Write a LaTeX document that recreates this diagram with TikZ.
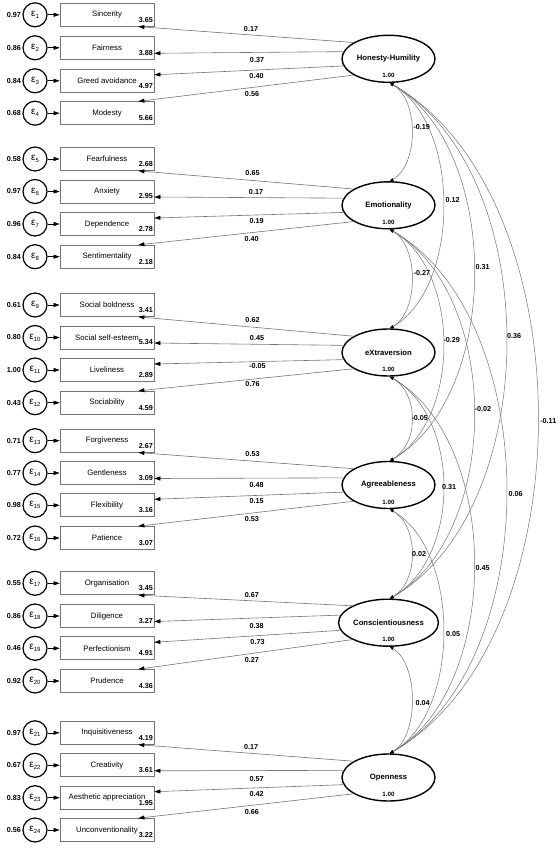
\documentclass[tikz,border=0pt]{standalone}
\usepackage{fontspec}
\setmainfont{Liberation Sans}
\usetikzlibrary{arrows.meta,calc,shapes.geometric}
\newcommand\epsv[1]{{\fontsize{10}{10}\selectfont ε}\raisebox{-2pt}{\fontsize{6}{6}\selectfont #1}}
\begin{document}
\begin{tikzpicture}[x=1pt,y=-1pt,
  obs/.style={rectangle,draw=black!55,line width=0.7pt,minimum width=94pt,minimum height=23pt,inner sep=0pt,font=\fontsize{7.8}{8}\selectfont},
  errc/.style={circle,draw=black,line width=1.2pt,minimum size=24pt,inner sep=0pt},
  lat/.style={ellipse,draw=black,line width=1.4pt,minimum width=93pt,minimum height=47pt,inner sep=0pt,font=\bfseries\fontsize{7.7}{8}\selectfont},
  num/.style={inner sep=0pt,font=\bfseries\fontsize{7.2}{7.2}\selectfont},
  numsmall/.style={inner sep=0pt,font=\bfseries\fontsize{6.2}{6.2}\selectfont},
  earr/.style={draw=black,line width=0.6pt,-{Triangle[length=6pt,width=4pt]}},
  ld/.style={draw=black!55,line width=0.6pt,-{Triangle[length=6pt,width=4pt,black]}},
  cv/.style={draw=black!55,line width=0.5pt,{Triangle[length=3.5pt,width=3pt,black]}-{Triangle[length=3.5pt,width=3pt,black]}}
]
\useasboundingbox (0,0) rectangle (558,850);

% indicators, errors, intercepts, error variances
\foreach \i/\y/\nm/\ic/\vr in {
 1/14.8/Sincerity/3.65/0.97, 2/47.8/Fairness/3.88/0.86, 3/80.8/Greed avoidance/4.97/0.84, 4/113.2/Modesty/5.66/0.68,
 5/159/Fearfulness/2.68/0.58, 6/191.5/Anxiety/2.95/0.97, 7/224/Dependence/2.78/0.96, 8/256.7/Sentimentality/2.18/0.84,
 9/305/Social boldness/3.41/0.61, 10/337.5/Social self-esteem/5.34/0.80, 11/370/Liveliness/2.89/1.00, 12/402.7/Sociability/4.59/0.43,
 13/440.7/Forgiveness/2.67/0.71, 14/473/Gentleness/3.09/0.77, 15/505.3/Flexibility/3.16/0.98, 16/538/Patience/3.07/0.72,
 17/583.3/Organisation/3.45/0.55, 18/616/Diligence/3.27/0.86, 19/648.3/Perfectionism/4.91/0.46, 20/681/Prudence/4.36/0.92,
 21/732.8/Inquisitiveness/4.19/0.97, 22/765.3/Creativity/3.61/0.67, 23/797.7/Aesthetic appreciation/1.95/0.83, 24/830/Unconventionality/3.22/0.56}
{
  \node[obs] (b\i) at (107,\y) {\nm};
  \node[errc] (e\i) at (35,\y) {\epsv{\i}};
  \node[num,anchor=east] (ic\i) at (153,\y+5) {\ic};
  \node[num,anchor=east] (v\i) at (21,\y) {\vr};
  \draw[earr] (e\i) -- (b\i);
}

% latent variables
\foreach \n/\y/\t in {HH/58.8/Honesty-Humility, E/205.3/Emotionality, X/352.5/eXtraversion,
  A/485/Agreeableness, C/622.7/Conscientiousness, O/777.5/Openness}
{
  \node[lat] (\n) at (388.5,\y) {\t};
  \node[numsmall] (v\n) at (388.5,\y+17) {1.00};
}

% loadings
\foreach \n/\a/\b/\c/\d in {HH/1/2/3/4, E/5/6/7/8, X/9/10/11/12, A/13/14/15/16, C/17/18/19/20, O/21/22/23/24}
{
  \draw[ld] (\n.155) -- ($(b\a.south east)+(-16,0)$);
  \draw[ld] (\n.171) -- ($(b\b.east)+(0,5.5)$);
  \draw[ld] (\n.189) -- ($(b\c.east)+(0,-6)$);
  \draw[ld] (\n.205) -- ($(b\d.north east)+(-16,0)$);
}

% loading labels
\foreach \k/\x/\y/\t in {
 1/251/29/0.17, 2/257/60/0.37, 3/256.5/76/0.40, 4/252/94.3/0.56,
 5/252.5/173.3/0.65, 6/256/191.7/0.17, 7/256.7/220.7/0.19, 8/251.7/239/0.40,
 9/252.5/320/0.62, 10/257/337.7/0.45, 11/257.5/366/-0.05, 12/252.5/384.3/0.76,
 13/252.5/454/0.53, 14/256.7/485.3/0.48, 15/256.7/501/0.15, 16/251.8/519.3/0.53,
 17/251.8/594.7/0.67, 18/256.7/626/0.38, 19/257.5/641.7/0.73, 20/251.8/660/0.27,
 21/251.2/747.3/0.17, 22/256.7/778.7/0.57, 23/256.7/794/0.42, 24/251.8/812.3/0.66}
{
  \node[num] (ll\k) at (\x,\y) {\t};
}

% covariances
\foreach \p/\q/\ca/\cb in {HH/E/29/17, HH/X/71/41, HH/A/112/65, HH/C/155/89, HH/O/197/113,
  E/X/29/17, E/A/71/41, E/C/112/65, E/O/155/89,
  X/A/29/17, X/C/71/41, X/O/112/65,
  A/C/29/17, A/O/71/41,
  C/O/29/17}
{
  \draw[cv] ($(\p.south)+(1.5,0)$) .. controls +(\ca,\cb) and +(\ca,-\cb) .. ($(\q.north)+(1.5,0)$);
}

% covariance labels
\foreach \k/\x/\y/\t in {
 1/421.7/127.3/-0.19, 2/452.5/200/0.12, 3/482.5/267.3/0.31, 4/514/335.7/0.36, 5/548.3/420.7/-0.11,
 6/422/272.7/-0.27, 7/451.7/340/-0.29, 8/483/409/-0.02, 9/515.7/494.3/0.06,
 10/419.7/418.3/-0.05, 11/449/487.3/0.31, 12/482.5/567.7/0.45,
 13/419/554/0.02, 14/453/634/0.05,
 15/422.5/703.3/0.04}
{
  \node[num] (cl\k) at (\x,\y) {\t};
}
\end{tikzpicture}
\end{document}
